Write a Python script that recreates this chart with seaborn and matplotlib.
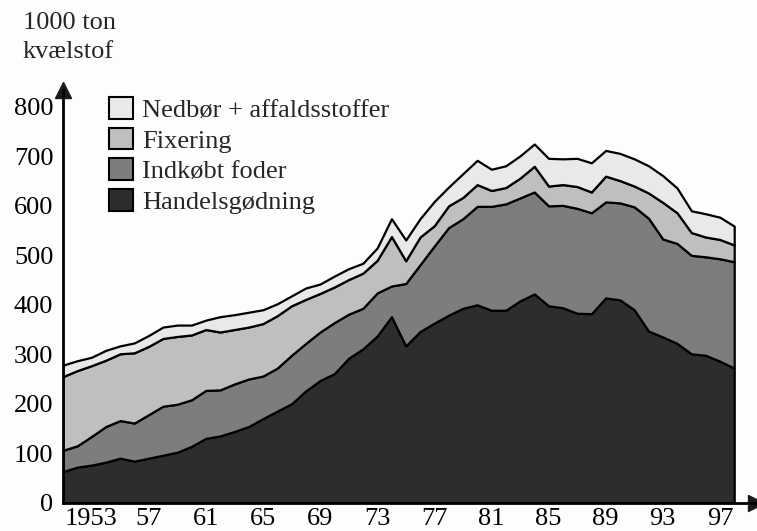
import matplotlib
matplotlib.use("Agg")
import matplotlib.pyplot as plt
from matplotlib.patches import Patch
import seaborn as sns
import pandas as pd

# Kvælstoftilførsel til landbruget, 1000 ton N
years = list(range(1951, 1999))

handelsgoedning = [63, 72, 76, 82, 90, 84, 90, 96, 102, 114, 130, 135, 144, 154, 170, 185,
                   200, 226, 247, 261, 292, 311, 337, 376, 317, 346, 363, 379, 393, 400, 389, 389,
                   408, 422, 398, 394, 383, 382, 414, 410, 390, 347, 335, 322, 301, 298, 286, 272]
indkoebt_foder = [43, 43, 58, 72, 76, 77, 88, 99, 97, 94, 97, 93, 96, 96, 86, 87,
                  98, 96, 98, 103, 89, 82, 87, 62, 126, 135, 156, 177, 181, 199, 210, 215,
                  208, 206, 202, 207, 212, 204, 194, 196, 208, 228, 198, 202, 199, 199, 207, 215]
fixering = [149, 152, 143, 134, 135, 142, 138, 137, 137, 131, 123, 117, 110, 105, 106, 106,
            100, 89, 78, 72, 70, 71, 66, 100, 46, 56, 41, 44, 43, 44, 32, 33,
            40, 52, 40, 42, 44, 42, 52, 45, 42, 51, 74, 62, 46, 40, 39, 34]
nedboer = [23, 20, 17, 20, 16, 20, 22, 23, 23, 20, 19, 31, 30, 30, 28, 24,
           20, 23, 19, 22, 22, 20, 25, 36, 42, 37, 49, 38, 48, 49, 43, 44,
           45, 45, 56, 52, 57, 59, 52, 55, 55, 55, 54, 50, 44, 47, 45, 38]

labels = ["Handelsgødning", "Indkøbt foder", "Fixering", "Nedbør + affaldsstoffer"]
colors = ["#2e2d2e", "#7f7c80", "#c1bec1", "#ebe8eb"]

tick_years = [1953, 1957, 1961, 1965, 1969, 1973, 1977, 1981, 1985, 1989, 1993, 1997]
tick_labels = ["1953", "57", "61", "65", "69", "73", "77", "81", "85", "89", "93", "97"]

df = pd.DataFrame({"year": years, labels[0]: handelsgoedning, labels[1]: indkoebt_foder,
                   labels[2]: fixering, labels[3]: nedboer})

sns.set_theme(style="white")
plt.rcParams["font.family"] = ["Liberation Serif", "DejaVu Serif"]

fs = 19
bg = "#fefcfe"
fig = plt.figure(figsize=(7.57, 5.31), dpi=100, facecolor=bg)
ax = fig.add_axes([0.0832, 0.0533, 0.915, 0.778])
ax.set_facecolor(bg)

ax.stackplot(df["year"], [df[c] for c in labels], colors=colors,
             edgecolor="black", linewidth=1.6)

ax.set_xlim(1951, 1999.5)
ax.set_ylim(0, 835)
ax.set_xticks(tick_years)
ax.set_xticklabels(tick_labels)
ax.set_yticks(range(0, 801, 100))
ax.tick_params(axis="both", length=0, labelsize=fs, colors="black")
ax.tick_params(axis="y", pad=7)
ax.tick_params(axis="x", pad=4)

sns.despine(ax=ax)
for s in ["left", "bottom"]:
    ax.spines[s].set_color("black")
    ax.spines[s].set_linewidth(2)
ax.plot(1, 0, ">k", markersize=11, transform=ax.transAxes, clip_on=False)
ax.plot(0, 1, "^k", markersize=11, transform=ax.transAxes, clip_on=False)

fig.text(0.03, 0.978, "1000 ton\nkvælstof", fontsize=fs, va="top", ha="left",
         linespacing=1.42)

handles = [Patch(facecolor=colors[i], edgecolor="black", linewidth=1.5, label=labels[i])
           for i in [3, 2, 1, 0]]
fig.legend(handles=handles, loc="upper left", bbox_to_anchor=(0.144, 0.818),
           frameon=False, fontsize=fs, handlelength=0.9, handleheight=0.9,
           handletextpad=0.35, labelspacing=0.22, borderpad=0, borderaxespad=0)

fig.savefig("out.png", dpi=100, facecolor=bg)
